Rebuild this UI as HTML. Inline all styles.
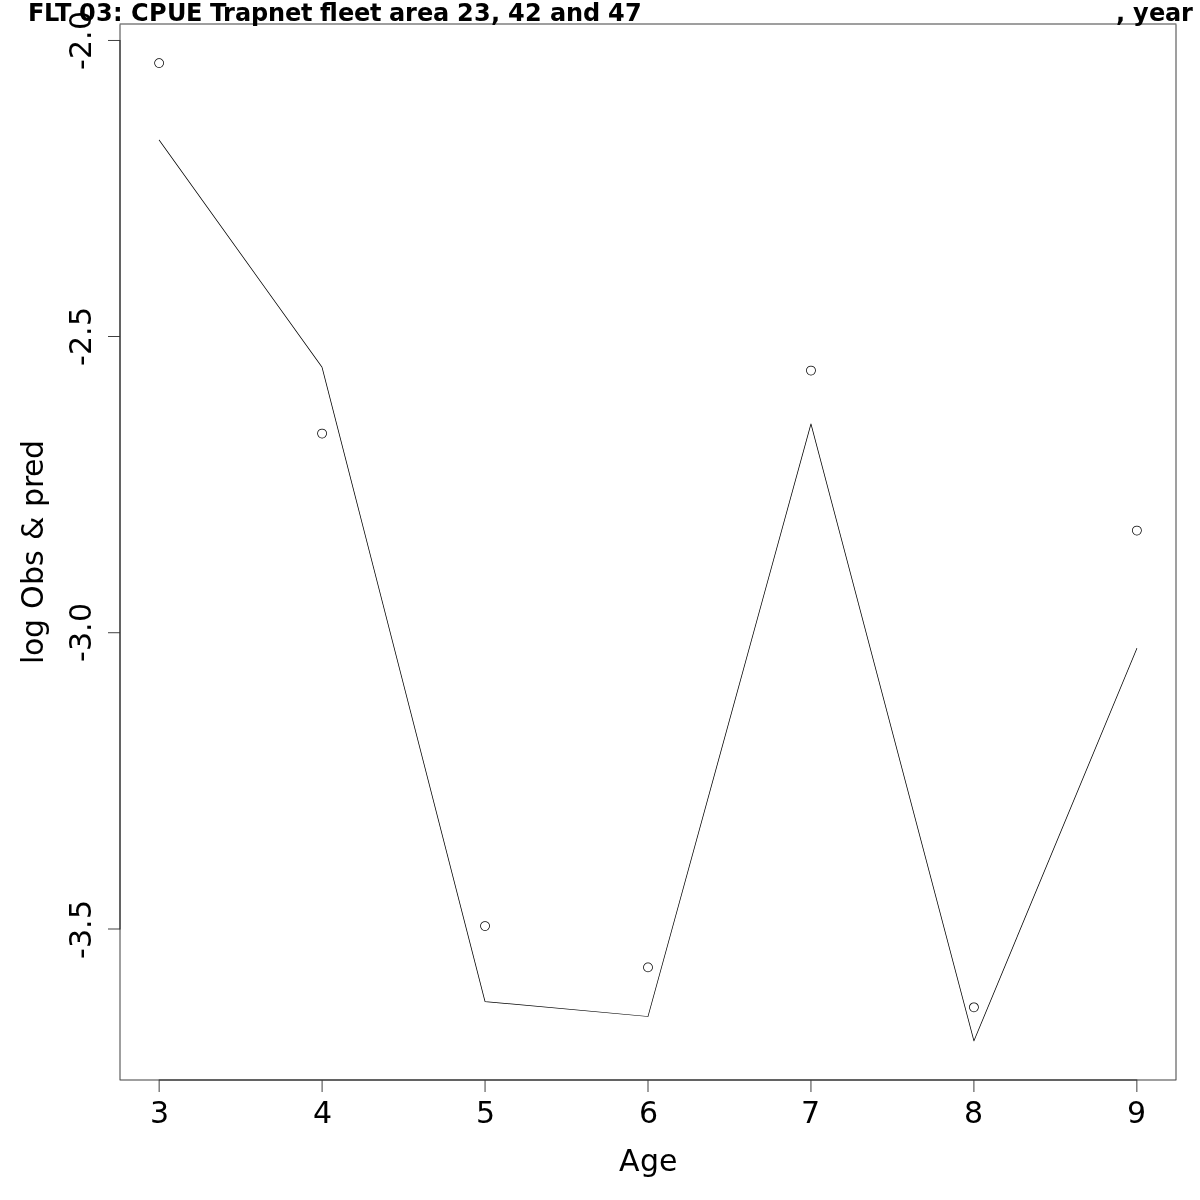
<!DOCTYPE html>
<html><head><meta charset="utf-8">
<style>
html,body{margin:0;padding:0;background:#fff;}
svg{display:block;will-change:transform;}
text{font-family:"DejaVu Sans","Liberation Sans",sans-serif;fill:#000;}
</style></head>
<body>
<svg width="1200" height="1200" viewBox="0 0 1200 1200">
<rect x="0" y="0" width="1200" height="1200" fill="#fff"/>
<text y="21" font-size="24" font-weight="bold"><tspan x="28 44 55 71 79 96 113 123 131 149 167 186 202 210 223 235 251 268 285 301 312">FLT 03: CPUE Trapnet </tspan><tspan x="320">fl</tspan><tspan x="338 354 370 381 389 405 417 433 449 457 474 491 500 508 525 542 550 566 583 600 608 625">eet area 23, 42 and 47</tspan></text>
<g font-size="24" font-weight="bold"><text x="1116 1125 1133 1149 1165 1181" y="21">, year</text></g>
<rect x="119.625" y="23" width="1056.75" height="1" fill="#000" fill-opacity="0.375"/><rect x="119.625" y="24" width="1056.75" height="1" fill="#000" fill-opacity="0.375"/><rect x="119.625" y="1079" width="1056.75" height="1" fill="#000" fill-opacity="0.375"/><rect x="119.625" y="1080" width="1056.75" height="1" fill="#000" fill-opacity="0.375"/>
<path fill="#000" d="M119.625 24.375H120.375V1079.625H119.625ZM1175.625 24.375H1176.375V1079.625H1175.625Z"/>
<rect x="158.736" y="1079" width="978.528" height="1" fill="#000" fill-opacity="0.375"/><rect x="158.736" y="1080" width="978.528" height="1" fill="#000" fill-opacity="0.375"/>
<path fill="#000" d="M158.736 1080.375H159.486V1092H158.736ZM321.699 1080.375H322.449V1092H321.699ZM484.662 1080.375H485.412V1092H484.662ZM647.625 1080.375H648.375V1092H647.625ZM810.588 1080.375H811.338V1092H810.588ZM973.551 1080.375H974.301V1092H973.551ZM1136.514 1080.375H1137.264V1092H1136.514Z"/>
<path fill="#000" d="M119.625 39.975H120.375V929.375H119.625Z"/>
<rect x="108" y="39" width="11.625" height="1" fill="#000" fill-opacity="0.025"/><rect x="108" y="40" width="11.625" height="1" fill="#000" fill-opacity="0.725"/><rect x="108" y="336" width="11.625" height="1" fill="#000" fill-opacity="0.75"/><rect x="108" y="632" width="11.625" height="1" fill="#000" fill-opacity="0.585"/><rect x="108" y="633" width="11.625" height="1" fill="#000" fill-opacity="0.165"/><rect x="108" y="928" width="11.625" height="1" fill="#000" fill-opacity="0.375"/><rect x="108" y="929" width="11.625" height="1" fill="#000" fill-opacity="0.375"/>
<g font-size="30">
<text x="150" y="1123">3</text>
<text x="313" y="1123">4</text>
<text x="476" y="1123">5</text>
<text x="639" y="1123">6</text>
<text x="801" y="1123">7</text>
<text x="964" y="1123">8</text>
<text x="1127" y="1123">9</text>
<text transform="translate(91,70) rotate(-90)" x="0 11 30 40" y="0">-2.0</text>
<text transform="translate(91,366) rotate(-90)" x="0 11 30 40" y="0">-2.5</text>
<text transform="translate(91,662) rotate(-90)" x="0 11 30 40" y="0">-3.0</text>
<text transform="translate(91,959) rotate(-90)" x="0 11 30 40" y="0">-3.5</text>
<text x="619 640 659" y="1171">Age</text>
<text transform="translate(43,664) rotate(-90)" x="0 8 26 45 55 79 98 114 124 147 157 176 187 205" y="0">log Obs &amp; pred</text>
</g>
<path fill="#000" d="M159.416 139.781L322.379 367.081L321.769 367.519L158.806 140.219ZM322.437 367.207L485.4 1001.507L484.674 1001.693L321.711 367.393ZM485.071 1001.227L648.034 1016.127L647.966 1016.873L485.003 1001.973ZM647.638 1016.401L810.601 423.701L811.325 423.899L648.362 1016.599ZM811.326 423.704L974.288 1040.804L973.563 1040.996L810.6 423.896ZM973.58 1040.756L1136.543 648.256L1137.235 648.544L974.272 1041.044ZM158.736 140A0.375 0.375 0 1 1 159.486 140A0.375 0.375 0 1 1 158.736 140ZM321.699 367.3A0.375 0.375 0 1 1 322.449 367.3A0.375 0.375 0 1 1 321.699 367.3ZM484.662 1001.6A0.375 0.375 0 1 1 485.412 1001.6A0.375 0.375 0 1 1 484.662 1001.6ZM647.625 1016.5A0.375 0.375 0 1 1 648.375 1016.5A0.375 0.375 0 1 1 647.625 1016.5ZM810.588 423.8A0.375 0.375 0 1 1 811.338 423.8A0.375 0.375 0 1 1 810.588 423.8ZM973.551 1040.9A0.375 0.375 0 1 1 974.301 1040.9A0.375 0.375 0 1 1 973.551 1040.9ZM1136.514 648.4A0.375 0.375 0 1 1 1137.264 648.4A0.375 0.375 0 1 1 1136.514 648.4Z"/>
<path fill="#000" d="M154.236 63.11A4.875 4.875 0 1 1 163.986 63.11A4.875 4.875 0 1 1 154.236 63.11ZM154.986 63.11A4.125 4.125 0 1 0 163.236 63.11A4.125 4.125 0 1 0 154.986 63.11ZM317.199 433.5A4.875 4.875 0 1 1 326.949 433.5A4.875 4.875 0 1 1 317.199 433.5ZM317.949 433.5A4.125 4.125 0 1 0 326.199 433.5A4.125 4.125 0 1 0 317.949 433.5ZM480.162 926A4.875 4.875 0 1 1 489.912 926A4.875 4.875 0 1 1 480.162 926ZM480.912 926A4.125 4.125 0 1 0 489.162 926A4.125 4.125 0 1 0 480.912 926ZM643.125 967.4A4.875 4.875 0 1 1 652.875 967.4A4.875 4.875 0 1 1 643.125 967.4ZM643.875 967.4A4.125 4.125 0 1 0 652.125 967.4A4.125 4.125 0 1 0 643.875 967.4ZM806.088 370.5A4.875 4.875 0 1 1 815.838 370.5A4.875 4.875 0 1 1 806.088 370.5ZM806.838 370.5A4.125 4.125 0 1 0 815.088 370.5A4.125 4.125 0 1 0 806.838 370.5ZM969.051 1007.3A4.875 4.875 0 1 1 978.801 1007.3A4.875 4.875 0 1 1 969.051 1007.3ZM969.801 1007.3A4.125 4.125 0 1 0 978.051 1007.3A4.125 4.125 0 1 0 969.801 1007.3ZM1132.014 530.5A4.875 4.875 0 1 1 1141.764 530.5A4.875 4.875 0 1 1 1132.014 530.5ZM1132.764 530.5A4.125 4.125 0 1 0 1141.014 530.5A4.125 4.125 0 1 0 1132.764 530.5Z"/>
</svg>
</body></html>
